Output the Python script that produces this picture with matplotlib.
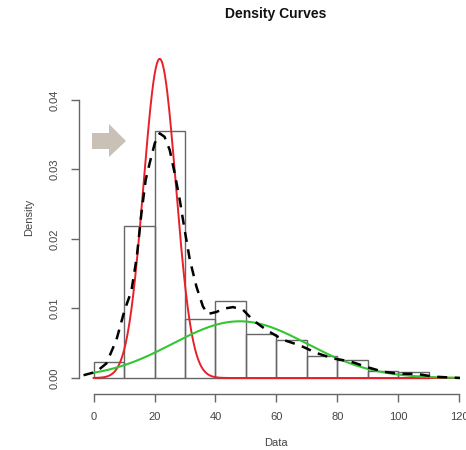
import numpy as np
import matplotlib
matplotlib.use("Agg")
import matplotlib.pyplot as plt
from matplotlib.patches import Polygon

plt.rcParams["font.family"] = ["Liberation Sans", "DejaVu Sans"]

# histogram (density scale), bins of width 10
bin_left = [0, 10, 20, 30, 40, 50, 60, 70, 80, 90, 100]
bin_height = [0.00235, 0.0219, 0.0355, 0.0085, 0.0111, 0.0063,
              0.0054, 0.0032, 0.0026, 0.0010, 0.0009]

# kernel density estimate (dashed)
kde_x = [-3.3, 0.9, 4.2, 7.5, 10.2, 12.4, 14.2, 15.7, 17.1, 18.4, 20.1,
         21.7, 23.3, 25.0, 26.6, 28.3, 29.9, 31.6, 33.8, 35.9, 37.5, 40.3,
         43.0, 45.8, 49.1, 52.4, 56.8, 62.2, 67.7, 73.2, 78.7, 84.2, 89.6,
         95.1, 100.6, 106.1, 111.5, 120.3]
kde_y = [0.0004, 0.0009, 0.0021, 0.0055, 0.0098, 0.0125, 0.0175, 0.0237,
         0.0285, 0.0309, 0.0338, 0.0352, 0.0347, 0.0328, 0.0295, 0.0256,
         0.0213, 0.0170, 0.0131, 0.0103, 0.0092, 0.0095, 0.0100, 0.0102,
         0.0098, 0.0083, 0.0069, 0.0055, 0.0047, 0.0036, 0.0028, 0.0024,
         0.0016, 0.0009, 0.0006, 0.0006, 0.0002, 0.0000]

# two normal mixture components: (weight, mean, sd)
comp_red = (0.61, 21.7, 5.3)
comp_green = (0.45, 48.0, 22.0)


def dnorm_scaled(x, w, mu, sd):
    return w * np.exp(-0.5 * ((x - mu) / sd) ** 2) / (sd * np.sqrt(2 * np.pi))


W, H = 466, 450
fig = plt.figure(figsize=(W / 100, H / 100), dpi=100)
ax = fig.add_axes([79 / W, 1 - 391 / H, (473.6 - 79) / W, (391 - 40.2) / H])

edge_grey = "#666666"
ax.bar(bin_left, bin_height, width=10, align="edge", fill=False,
       edgecolor=edge_grey, linewidth=1.0)

xs = np.linspace(0, 120, 600)
ax.plot(xs, dnorm_scaled(xs, *comp_red), color="#e8202a", linewidth=1.4)
ax.plot(xs, dnorm_scaled(xs, *comp_green), color="#33c633", linewidth=1.5)
ax.plot(kde_x, kde_y, color="black", linewidth=1.8, linestyle=(0, (4, 3)))

ax.set_xlim(-4.8, 124.8)
ax.set_ylim(-0.00187, 0.0486)
ax.set_xticks([0, 20, 40, 60, 80, 100, 120])
ax.set_yticks([0.0, 0.01, 0.02, 0.03, 0.04])
ax.set_yticklabels(["0.00", "0.01", "0.02", "0.03", "0.04"],
                   rotation=90, va="center")

for s in ["top", "right"]:
    ax.spines[s].set_visible(False)
ax.spines["left"].set_bounds(0, 0.04)
ax.spines["bottom"].set_bounds(0, 120)
ax.spines["bottom"].set_position(("outward", 2))
for s in ["left", "bottom"]:
    ax.spines[s].set_color(edge_grey)
    ax.spines[s].set_linewidth(1.0)
ax.tick_params(axis="both", direction="out", length=6, width=1.0,
               color=edge_grey, labelcolor="#444444", labelsize=8)
ax.tick_params(axis="x", pad=7)
ax.tick_params(axis="y", pad=8)

fig.text(276 / W, 1 - 443 / H, "Data", ha="center", va="center",
         fontsize=8, color="#444444")
fig.text(29 / W, 1 - 217 / H, "Density", ha="center", va="center",
         rotation=90, fontsize=8, color="#444444")
fig.text(276 / W, 1 - 14 / H, "Density Curves", ha="center", va="center",
         fontsize=10, fontweight="bold", color="#111111")

# grey block arrow pointing at the peak
arrow_px = [(92, 133), (109, 133), (109, 124), (126, 141),
            (109, 157), (109, 149), (92, 149)]
arrow = Polygon([(x / W, 1 - y / H) for x, y in arrow_px], closed=True,
                transform=fig.transFigure, facecolor="#c9c0b6",
                edgecolor="none")
fig.patches.append(arrow)

fig.savefig("out.png", dpi=100)
